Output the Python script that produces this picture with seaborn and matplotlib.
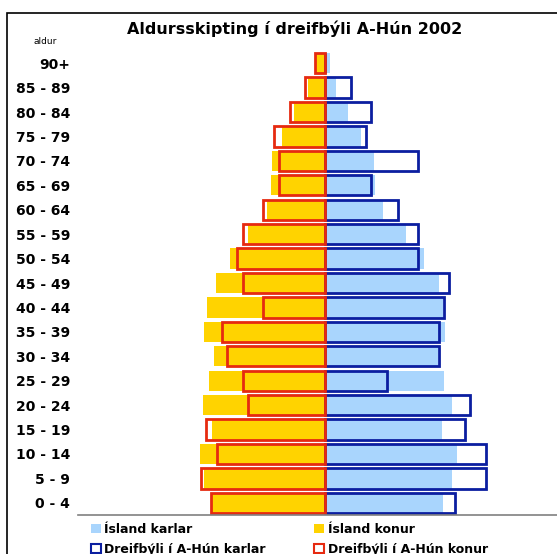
import matplotlib
matplotlib.use("Agg")
import matplotlib.pyplot as plt
import matplotlib.patches as mpatches
import pandas as pd
import seaborn as sns

# age groups, top to bottom
ages = ["90+", "85 - 89", "80 - 84", "75 - 79", "70 - 74", "65 - 69", "60 - 64",
        "55 - 59", "50 - 54", "45 - 49", "40 - 44", "35 - 39", "30 - 34",
        "25 - 29", "20 - 24", "15 - 19", "10 - 14", "5 - 9", "0 - 4"]

# share of population (%)
island_karlar = [0.15, 0.34, 0.70, 1.10, 1.49, 1.52, 1.77, 2.47, 3.02, 3.48,
                 3.60, 3.65, 3.45, 3.62, 3.87, 3.57, 4.02, 3.87, 3.60]
island_konur = [0.30, 0.53, 0.95, 1.32, 1.62, 1.65, 1.77, 2.36, 2.90, 3.32,
                3.60, 3.69, 3.38, 3.54, 3.72, 3.45, 3.81, 3.69, 3.48]
ahun_karlar = [0.0, 0.79, 1.41, 1.25, 2.84, 1.41, 2.21, 2.84, 2.84, 3.79,
               3.64, 3.48, 3.48, 1.90, 4.43, 4.27, 4.90, 4.90, 3.96]
ahun_konur = [0.31, 0.62, 1.08, 1.56, 1.41, 1.41, 1.88, 2.51, 2.68, 2.51,
              1.88, 3.15, 2.99, 2.51, 2.35, 3.63, 3.30, 3.78, 3.48]

legend_labels = ["Ísland karlar", "Dreifbýli í A-Hún karlar",
                 "Ísland konur", "Dreifbýli í A-Hún konur"]

c_lblue = "#A9D5FD"
c_yellow = "#FFD300"
c_navy = "#0B1EA0"
c_red = "#E62A10"

df = pd.DataFrame({
    "aldur": ages,
    "isl_kk": island_karlar,
    "isl_kvk": [-v for v in island_konur],
    "ahun_kk": ahun_karlar,
    "ahun_kvk": [-v for v in ahun_konur],
})

sns.set_style("white")
plt.rcParams["font.family"] = ["DejaVu Sans"]
plt.rcParams["text.color"] = "black"
plt.rcParams["ytick.color"] = "black"

W, H = 557, 554
fig = plt.figure(figsize=(W / 100, H / 100), dpi=100)
ax = fig.add_axes([78 / W, (H - 515) / H, (W - 78) / W, (515 - 51) / H])

bw = 0.83
sns.barplot(data=df, x="isl_kk", y="aldur", orient="h", color=c_lblue,
            width=bw, errorbar=None, saturation=1, linewidth=0, ax=ax)
sns.barplot(data=df, x="isl_kvk", y="aldur", orient="h", color=c_yellow,
            width=bw, errorbar=None, saturation=1, linewidth=0, ax=ax)
sns.barplot(data=df, x="ahun_kk", y="aldur", orient="h", color=c_navy,
            width=bw, errorbar=None, saturation=1, fill=False, linewidth=2, ax=ax)
sns.barplot(data=df, x="ahun_kvk", y="aldur", orient="h", color=c_red,
            width=bw, errorbar=None, saturation=1, fill=False, linewidth=2, ax=ax)

ax.set_xlim(-7.53, 7.07)
ax.set_ylim(18.5, -0.5)
ax.set_xlabel("")
ax.set_ylabel("")
ax.set_xticks([])
ax.tick_params(axis="y", length=0, pad=5.8, labelcolor="black")
for lab in ax.get_yticklabels():
    lab.set_fontweight("bold")
    lab.set_fontsize(10)
for s in ["top", "right", "left"]:
    ax.spines[s].set_visible(False)
ax.spines["bottom"].set_color("#808080")
ax.spines["bottom"].set_linewidth(1.2)

fig.text(295 / W, 1 - 29 / H, "Aldursskipting í dreifbýli A-Hún 2002",
         ha="center", va="center", fontsize=11.5, fontweight="bold", color="black")
fig.text(45 / W, 1 - 41 / H, "aldur", ha="center", va="center", fontsize=6.5,
         color="black")

# chart border
fig.add_artist(mpatches.Rectangle((7 / W, -0.1), 1.2, 1 - 13 / H + 0.1,
                                  transform=fig.transFigure, fill=False,
                                  edgecolor="black", linewidth=1.2))

handles = [
    mpatches.Patch(facecolor=c_lblue, edgecolor="none"),
    mpatches.Patch(facecolor="white", edgecolor=c_navy, linewidth=1.5),
    mpatches.Patch(facecolor=c_yellow, edgecolor="none"),
    mpatches.Patch(facecolor="white", edgecolor=c_red, linewidth=1.5),
]
fig.legend(handles, legend_labels, ncol=2, loc="upper left",
           bbox_to_anchor=(91 / W, 1 - 523 / H), frameon=False,
           prop={"weight": "bold", "size": 9}, handlelength=0.8,
           handleheight=0.8, handletextpad=0.25, columnspacing=3.9,
           labelspacing=0.55, borderpad=0, borderaxespad=0)

fig.savefig("out.png", dpi=100)
